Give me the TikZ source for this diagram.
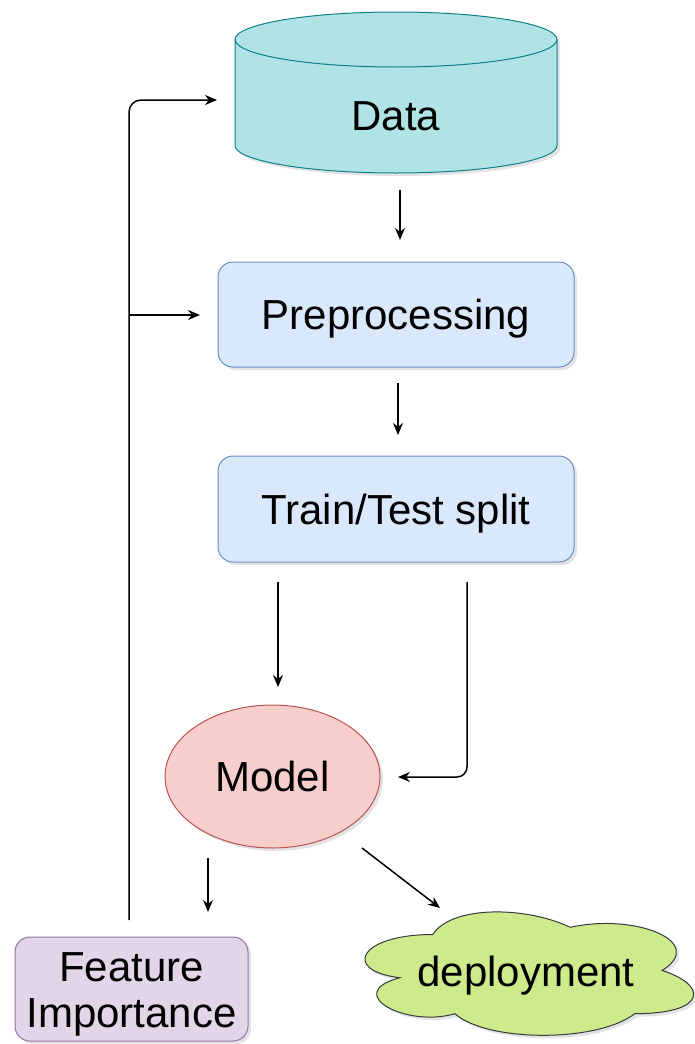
\documentclass[tikz,border=0pt]{standalone}
\usepackage{fontspec}
\setmainfont{Liberation Sans}
\usetikzlibrary{shapes.geometric,arrows.meta,shadows}
\definecolor{cylfill}{HTML}{B0E3E6}
\definecolor{cyldraw}{HTML}{0E8088}
\definecolor{bluefill}{HTML}{DAE8FC}
\definecolor{bluedraw}{HTML}{6C8EBF}
\definecolor{redfill}{HTML}{F8CECC}
\definecolor{reddraw}{HTML}{B85450}
\definecolor{purplefill}{HTML}{E1D5E7}
\definecolor{purpledraw}{HTML}{9673A6}
\definecolor{greenfill}{HTML}{CDEB8B}
\definecolor{greendraw}{HTML}{36393D}
\begin{document}
\begin{tikzpicture}[x=1pt,y=-1pt,
  txt/.style={font=\fontsize{42}{46}\selectfont, text=black},
  shad/.style={drop shadow={opacity=0.22, shadow xshift=3pt, shadow yshift=-3pt}},
  onebox/.style={txt, inner sep=0pt, text height=30pt, text depth=0pt, line width=1pt, shad},
  stepbox/.style={onebox, rounded corners=15pt, draw=bluedraw, fill=bluefill, minimum width=356pt, minimum height=105pt},
  modelnode/.style={onebox, ellipse, draw=reddraw, fill=redfill, minimum width=215pt, minimum height=143pt},
  fibox/.style={onebox, rounded corners=15pt, draw=purpledraw, fill=purplefill, minimum width=233pt, minimum height=104pt},
  cloudnode/.style={txt, inner sep=0pt, text height=30pt, text depth=0pt, minimum width=367pt, minimum height=144pt},
  arr/.style={line width=1.5pt, draw=black, -{Stealth[length=12pt,width=10pt]}},
]
\useasboundingbox (0,0) rectangle (695,1044);

% ---- Data cylinder ----
\path[fill=cylfill, draw=cyldraw, line width=1pt, shad]
  (235,39.5) -- (235,145.5)
  arc[start angle=180, end angle=0, x radius=161, y radius=27.5]
  -- (557,39.5)
  arc[start angle=0, end angle=-180, x radius=161, y radius=27.5] -- cycle;
\draw[cyldraw, line width=1pt] (235,39.5) arc[start angle=180, end angle=0, x radius=161, y radius=27.5];
\node[inner sep=0pt, minimum width=322pt, minimum height=161pt] (data) at (396,92.5) {};
\node[txt, anchor=base] (datatext) at (396,130) {Data};

% ---- boxes ----
\node[stepbox] (prep) at (396,314.5) {Preprocessing};
\node[stepbox, minimum height=106pt] (split) at (396,509) {Train/Test split};
\node[modelnode] (model) at (272.5,776.5) {Model};
\node[fibox] (fi) at (131.5,989) {};
\node[txt, align=center] (fitext) at (131.5,994.4) {Feature\\Importance};

% ---- cloud ----
\begin{scope}[shift={(341,898.5)}, x=367pt, y=-144pt]
\path[fill=greenfill, draw=greendraw, line width=1pt, shad]
  (0.25,0.25) .. controls (0.05,0.25) and (0,0.5) .. (0.16,0.55)
  .. controls (0,0.66) and (0.18,0.9) .. (0.31,0.8)
  .. controls (0.4,1) and (0.7,1) .. (0.8,0.8)
  .. controls (1,0.8) and (1,0.6) .. (0.875,0.5)
  .. controls (1,0.3) and (0.8,0.1) .. (0.625,0.2)
  .. controls (0.5,0.05) and (0.3,0.05) .. (0.25,0.25) -- cycle;
\end{scope}
\node[cloudnode] (deploy) at (526,971.5) {deployment};

% ---- connector end points ----
\coordinate (d1) at (400,190);   \coordinate (d2) at (400,240);
\coordinate (p1) at (398,383);   \coordinate (p2) at (398,435);
\coordinate (s1) at (278,582);   \coordinate (s2) at (278,687);
\coordinate (r1) at (467,582);   \coordinate (r2) at (398,777);
\coordinate (m1) at (208,858);   \coordinate (m2) at (208,912);
\coordinate (c1) at (362,848);   \coordinate (c2) at (440,908);
\coordinate (lb) at (129,920);   \coordinate (lt) at (129,100);
\coordinate (la) at (217,100);
\coordinate (bs) at (129,315);   \coordinate (be) at (200,315);

% ---- connectors ----
\draw[arr] (d1) -- (d2);
\draw[arr] (p1) -- (p2);
\draw[arr] (s1) -- (s2);
\draw[arr, rounded corners=10pt] (r1) |- (r2);
\draw[arr] (m1) -- (m2);
\draw[arr] (c1) -- (c2);
\draw[arr, rounded corners=12pt] (lb) -- (lt) -- (la);
\draw[arr] (bs) -- (be);
\end{tikzpicture}
\end{document}
